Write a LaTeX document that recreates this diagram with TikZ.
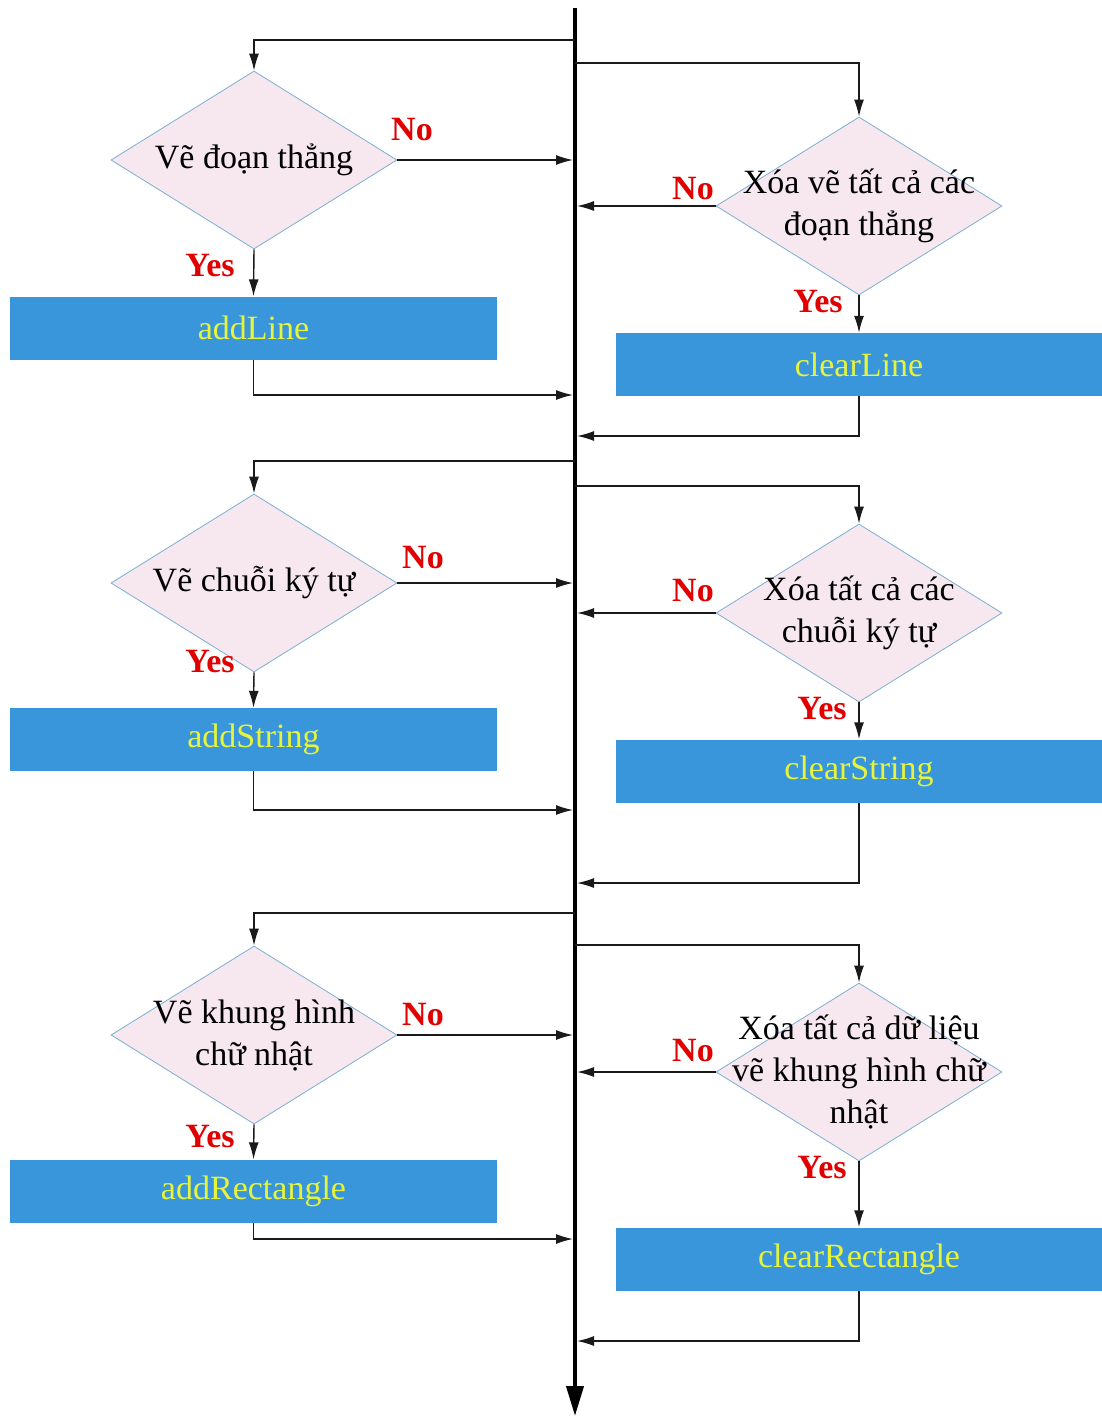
\documentclass[tikz,border=0pt]{standalone}
\usepackage{fontspec}
\setmainfont{Liberation Serif}
\usetikzlibrary{arrows.meta,shapes.geometric}
\definecolor{boxblue}{HTML}{3A96DB}
\definecolor{boxtext}{HTML}{E6F53C}
\definecolor{dfill}{HTML}{F6E8EE}
\definecolor{dline}{HTML}{7BAFD4}
\definecolor{lblred}{HTML}{E00000}
\definecolor{conn}{HTML}{1A1A1A}
\tikzset{
  dec/.style={diamond, draw=dline, fill=dfill, line width=0.8pt, inner sep=0pt,
    minimum width=286pt, minimum height=178pt},
  dtext/.style={inner sep=0pt, align=center, font=\fontsize{34}{42}\selectfont},
  actbox/.style={rectangle, fill=boxblue, inner sep=0pt, minimum width=487pt,
    minimum height=63pt, text=boxtext, font=\fontsize{34}{40}\selectfont},
  lbl/.style={inner sep=0pt, text=lblred, font=\fontsize{34}{40}\selectfont\bfseries},
  arr/.style={draw=conn, line width=1.4pt, -{Latex[length=17pt,width=10pt]}},
  tospine/.style={arr, shorten >=2pt},
}
\begin{document}
\begin{tikzpicture}[x=1pt,y=-1pt]
\useasboundingbox (0,0) rectangle (1101,1418);
% spine
\coordinate (sp) at (575,8);
\coordinate (spend) at (575,1416);
\draw[line width=4pt, -{Triangle[length=30pt,width=17pt]}] (sp) -- (spend);

% ---------- left column ----------
\node[dec] (d1) at (254,160) {};
\node[dtext] (d1t) at (d1.center) {Vẽ đoạn thẳng};
\node[actbox] (b1) at (253.5,328) {addLine};
\node[dec] (d2) at (254,583) {};
\node[dtext] (d2t) at (d2.center) {Vẽ chuỗi ký tự};
\node[actbox] (b2) at (253.5,739.5) {addString};
\node[dec] (d3) at (254,1035) {};
\node[dtext] (d3t) at (d3.center) {Vẽ khung hình\\chữ nhật};
\node[actbox] (b3) at (253.5,1191) {addRectangle};

% ---------- right column ----------
\node[dec] (e1) at (859,206) {};
\node[dtext] (e1t) at (e1.center) {Xóa vẽ tất cả các\\đoạn thẳng};
\node[actbox, minimum width=486pt] (c1) at (859,364.5) {clearLine};
\node[dec] (e2) at (859,613) {};
\node[dtext] (e2t) at (e2.center) {Xóa tất cả các\\chuỗi ký tự};
\node[actbox, minimum width=486pt] (c2) at (859,771) {clearString};
\node[dec] (e3) at (859,1072) {};
\node[dtext] (e3t) at (e3.center) {Xóa tất cả dữ liệu\\vẽ khung hình chữ\\nhật};
\node[actbox, minimum width=486pt] (c3) at (859,1259) {clearRectangle};

% spine coordinates
\coordinate (f1) at (575,40);
\coordinate (r1) at (575,395);
\coordinate (g1) at (575,63);
\coordinate (q1) at (575,436);
\coordinate (f2) at (575,461);
\coordinate (r2) at (575,810);
\coordinate (g2) at (575,486);
\coordinate (q2) at (575,883);
\coordinate (f3) at (575,913);
\coordinate (r3) at (575,1239);
\coordinate (g3) at (575,945);
\coordinate (q3) at (575,1341);

% ---------- connectors left ----------
\draw[arr] (f1) -| (d1.north);
\draw[tospine] (d1.east) -- (d1.east -| sp);
\draw[arr] (d1.south) -- (b1.north);
\draw[tospine] (b1.south) |- (r1);

\draw[arr] (f2) -| (d2.north);
\draw[tospine] (d2.east) -- (d2.east -| sp);
\draw[arr] (d2.south) -- (b2.north);
\draw[tospine] (b2.south) |- (r2);

\draw[arr] (f3) -| (d3.north);
\draw[tospine] (d3.east) -- (d3.east -| sp);
\draw[arr] (d3.south) -- (b3.north);
\draw[tospine] (b3.south) |- (r3);

% ---------- connectors right ----------
\draw[arr] (g1) -| (e1.north);
\draw[tospine] (e1.west) -- (e1.west -| sp);
\draw[arr] (e1.south) -- (c1.north);
\draw[tospine] (c1.south) |- (q1);

\draw[arr] (g2) -| (e2.north);
\draw[tospine] (e2.west) -- (e2.west -| sp);
\draw[arr] (e2.south) -- (c2.north);
\draw[tospine] (c2.south) |- (q2);

\draw[arr] (g3) -| (e3.north);
\draw[tospine] (e3.west) -- (e3.west -| sp);
\draw[arr] (e3.south) -- (c3.north);
\draw[tospine] (c3.south) |- (q3);

% ---------- labels ----------
\node[lbl] (n1) at (412,130) {No};
\node[lbl] (y1) at (210,266) {Yes};
\node[lbl] (n2) at (423,558) {No};
\node[lbl] (y2) at (210,662) {Yes};
\node[lbl] (n3) at (423,1015) {No};
\node[lbl] (y3) at (210,1137) {Yes};
\node[lbl] (m1) at (693,189) {No};
\node[lbl] (z1) at (818,302) {Yes};
\node[lbl] (m2) at (693,591) {No};
\node[lbl] (z2) at (822,709) {Yes};
\node[lbl] (m3) at (693,1051) {No};
\node[lbl] (z3) at (822,1168) {Yes};
\end{tikzpicture}
\end{document}
